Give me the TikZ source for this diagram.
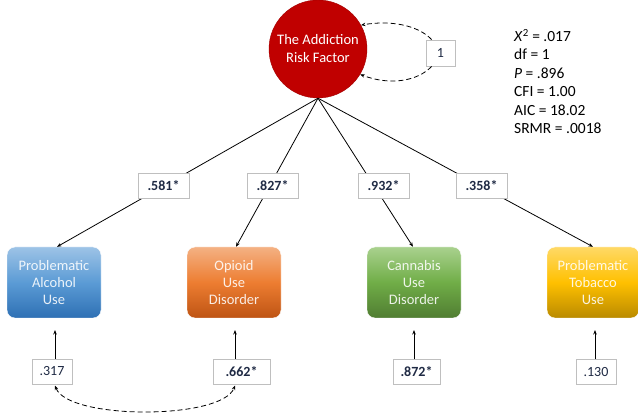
\documentclass[tikz,border=0pt]{standalone}
\usepackage{fontspec}
\setmainfont{Carlito}
\usetikzlibrary{arrows.meta,calc}
\definecolor{riskred}{HTML}{C00000}
\definecolor{boxgray}{HTML}{BFBFBF}
\definecolor{numblue}{HTML}{1F2A44}
\begin{document}
\begin{tikzpicture}[x=1pt,y=-1pt,
  tip/.style={-{Stealth[length=4.5pt,width=3.5pt]}},
  path/.style={tip, line width=0.8pt, black},
  varbox/.style={rounded corners=8pt, minimum width=94pt, minimum height=71pt,
     inner sep=0pt, align=center, font=\fontsize{14.5}{17}\selectfont,
     text=white, text opacity=0.88, draw=white, line width=0.4pt},
  coef/.style={draw=boxgray, fill=white, line width=0.8pt, minimum width=51pt,
     minimum height=25pt, inner sep=0pt, text=numblue,
     font=\fontsize{14}{16}\selectfont\bfseries},
  errbox/.style={coef, minimum width=40pt},
]
\useasboundingbox (0,0) rectangle (638,414);

% latent factor
\node[circle, fill=riskred, draw=riskred!85!black, minimum size=98pt, inner sep=0pt,
      align=center, text=white, font=\fontsize{14.5}{18}\selectfont] (risk) at (318,49)
      {The Addiction\\Risk Factor};

% observed variables
\node[varbox, top color={rgb,255:red,157;green,195;blue,230}, bottom color={rgb,255:red,46;green,112;blue,180},
      middle color={rgb,255:red,91;green,155;blue,213}] (alc) at (54,282.5) {Problematic\\Alcohol\\Use};
\node[varbox, top color={rgb,255:red,244;green,177;blue,131}, bottom color={rgb,255:red,190;green,84;blue,20},
      middle color={rgb,255:red,237;green,125;blue,49}] (opi) at (234,282.5) {Opioid\\Use\\Disorder};
\node[varbox, top color={rgb,255:red,169;green,209;blue,142}, bottom color={rgb,255:red,80;green,125;blue,50},
      middle color={rgb,255:red,112;green,173;blue,71}] (can) at (414,282.5) {Cannabis\\Use\\Disorder};
\node[varbox, minimum width=92pt, top color={rgb,255:red,255;green,217;blue,102}, bottom color={rgb,255:red,185;green,138;blue,0},
      middle color={rgb,255:red,255;green,192;blue,0}] (tob) at (593,282.5) {Problematic\\Tobacco\\Use};

% loadings
\coordinate (t1) at ($(alc.north)+(3,0)$);
\coordinate (t2) at ($(opi.north)+(2,0)$);
\coordinate (t3) at ($(can.north)+(-1,0)$);
\draw[path] (risk.south) -- (t1);
\draw[path] (risk.south) -- (t2);
\draw[path] (risk.south) -- (t3);
\draw[path] (risk.south) -- (tob.north);

\node[coef] (c1) at (163.5,185.5) {.581*};
\node[coef] (c2) at (272.5,185.5) {.827*};
\node[coef] (c3) at (383.5,185.5) {.932*};
\node[coef] (c4) at (481.5,185.5) {.358*};

% error terms
\node[errbox, font=\fontsize{14}{16}\selectfont] (e1) at (52,371.5) {.317};
\node[errbox, minimum width=57pt] (e2) at (241.5,371.5) {.662*};
\node[errbox, minimum width=47pt] (e3) at (416.5,372) {.872*};
\node[errbox, font=\fontsize{14}{16}\selectfont] (e4) at (596,372) {.130};

\coordinate (s1) at (55,359);  \coordinate (u1) at (55,330);
\coordinate (s2) at (235,359); \coordinate (u2) at (235,330);
\coordinate (s3) at (414,359.5); \coordinate (u3) at (414,330);
\coordinate (s4) at (595,359.5); \coordinate (u4) at (595,330);
\draw[path] (s1) -- (u1);
\draw[path] (s2) -- (u2);
\draw[path] (s3) -- (u3);
\draw[path] (s4) -- (u4);

% correlated errors
\coordinate (b1) at (55,385.5);
\coordinate (b2) at (235,385.5);
\draw[{Stealth[length=4.5pt,width=3.5pt]}-{Stealth[length=4.5pt,width=3.5pt]}, line width=0.8pt,
      dash pattern=on 5pt off 3pt]
  (b1) .. controls (68,420) and (222,420) .. (b2);

% variance of factor
\node[coef, minimum width=29pt, minimum height=26pt, font=\fontsize{14}{16}\selectfont] (one) at (440.5,53) {1};
\coordinate (o1) at ($(one.north west)+(6,0)$);
\coordinate (o2) at ($(one.south west)+(6,0)$);
\draw[tip, line width=0.8pt, dash pattern=on 5pt off 3pt]
  (o1) .. controls (418,25) and (390,20) .. (risk.29);
\draw[tip, line width=0.8pt, dash pattern=on 5pt off 3pt]
  (o2) .. controls (418,81) and (390,86) .. (risk.-31);

% fit statistics
\node[anchor=north west, align=left, inner sep=0pt, font=\fontsize{15.5}{18.5}\selectfont] (fit) at (514,29)
  {\textit{X}\textsuperscript{2} = .017\\ df = 1\\ \textit{P} = .896\\ CFI = 1.00\\ AIC = 18.02\\ SRMR = .0018};
\end{tikzpicture}
\end{document}
